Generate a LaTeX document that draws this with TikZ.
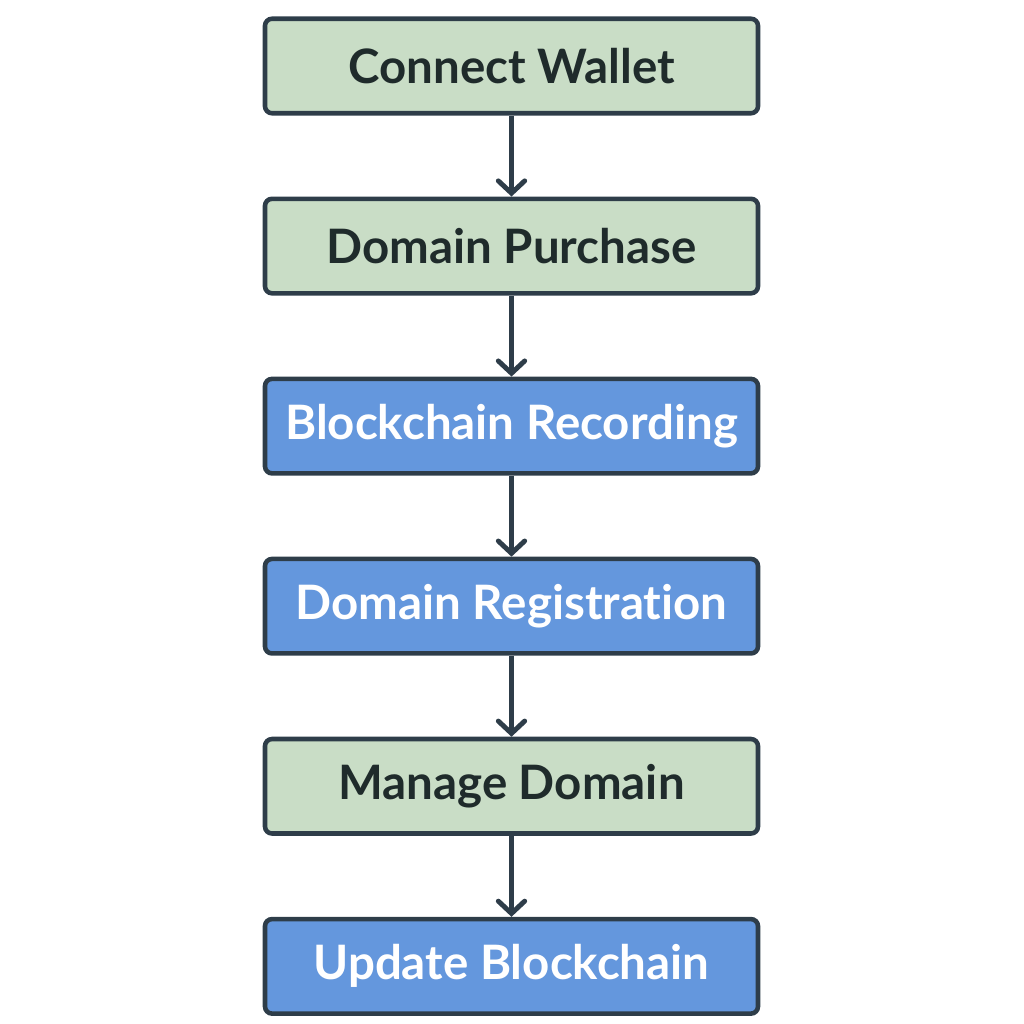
\documentclass[tikz,border=0pt]{standalone}
\usepackage{fontspec}
\setmainfont{Lato}[Ligatures={NoCommon}]
\usetikzlibrary{positioning,arrows.meta}

\definecolor{stepgreen}{HTML}{C9DDC6}
\definecolor{stepblue}{HTML}{6497DD}
\definecolor{edgegray}{HTML}{2E3D49}
\definecolor{textdark}{HTML}{1F2B2B}

\tikzset{
  stepbox/.style={draw=edgegray, line width=2.6pt, rounded corners=4pt,
    minimum width=9.86cm, minimum height=1.89cm, inner sep=0pt,
    font=\fontsize{27}{32}\selectfont\bfseries},
  greenbox/.style={stepbox, fill=stepgreen, text=textdark},
  bluebox/.style={stepbox, fill=stepblue, text=white},
  flow/.style={draw=edgegray, line width=2.8pt,
    -{Straight Barb[length=7pt,width=15pt,line cap=round]}}
}

\begin{document}
\begin{tikzpicture}[node distance=1.62cm]
  % Cadre de l'image
  \useasboundingbox (0,0) rectangle (20.48,20.48);

  % Les étapes
  \node[greenbox] (wallet) at (10.23,19.16) {Connect Wallet};
  \node[greenbox, below=of wallet] (purchase) {Domain Purchase};
  \node[bluebox, below=of purchase] (recording) {Blockchain Recording};
  \node[bluebox, below=of recording] (registration) {Domain Registration};
  \node[greenbox, below=of registration] (manage) {Manage Domain};
  \node[bluebox, below=of manage] (update) {Update Blockchain};

  % Les flèches
  \draw[flow] (wallet) -- (purchase);
  \draw[flow] (purchase) -- (recording);
  \draw[flow] (recording) -- (registration);
  \draw[flow] (registration) -- (manage);
  \draw[flow] (manage) -- (update);
\end{tikzpicture}
\end{document}
